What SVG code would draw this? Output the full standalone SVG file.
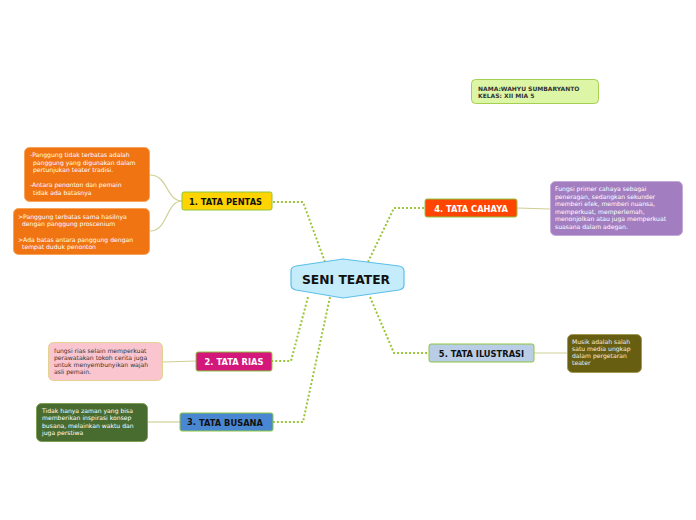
<svg xmlns="http://www.w3.org/2000/svg" width="696" height="520" viewBox="0 0 696 520">
<style>
text{font-family:"DejaVu Sans",Verdana,sans-serif}
.main{stroke:#8cc63f;stroke-width:1}
.t{font-weight:bold;font-size:8.3px}
.lf{font-size:6.1px}
.dot{fill:none;stroke:#9bc43a;stroke-width:2;stroke-dasharray:2 2}
.ln{fill:none;stroke:#cfcf95;stroke-width:1.2}
</style>
<rect width="696" height="520" fill="#fff"/>
<g id="connectors">
<path class="dot" d="M325,262 L303,202 L273,202"/>
<path class="dot" d="M368,262 L394,208 L425,208"/>
<path class="dot" d="M308,297 L291,361 L272,361"/>
<path class="dot" d="M330,297 L303,422 L273,422"/>
<path class="dot" d="M370,297 L394,353 L429,353"/>
<path class="ln" d="M182,201 C166,201 168,175 150,175"/>
<path class="ln" d="M182,201 C166,201 168,231 150,231"/>
<path class="ln" d="M517,208 L550,209"/>
<path class="ln" d="M196,361 L163,362"/>
<path class="ln" d="M180,422 L148,422"/>
<path class="ln" d="M534,353 L567,353"/>
</g>
<g id="center">
<path d="M291,271 Q291,267 296,266 L343,259 L399,266 Q404,267 404,271 L404,285 Q404,289 399,290 L343,298 L296,290 Q291,289 291,285 Z" fill="#c5ecfb" stroke="#5bbfea" stroke-width="1.2"/>
<text x="346" y="284" text-anchor="middle" font-size="12.3" font-weight="bold" fill="#111">SENI TEATER</text>
</g>
<g id="nama">
<rect x="471.5" y="79.5" width="127" height="24" rx="4" fill="#ddf6a6" stroke="#a5cf50"/>
<text x="478" y="91" font-size="6" font-weight="bold" fill="#333">NAMA:WAHYU SUMBARYANTO</text>
<text x="478" y="98" font-size="6" font-weight="bold" fill="#333">KELAS: XII MIA 5</text>
</g>
<g id="n1">
<rect x="182" y="192" width="90" height="18" rx="2" fill="#ffd400" class="main"/>
<text x="189" y="204.5" class="t" fill="#111">1. TATA PENTAS</text>
</g>
<g id="n1a">
<rect x="24.5" y="147.5" width="125" height="54" rx="5" fill="#f07512" stroke="#f6a45a"/>
<text class="lf" fill="#fff"><tspan x="30" y="157">-Panggung tidak terbatas adalah</tspan><tspan x="33" y="164.5">panggung yang digunakan dalam</tspan><tspan x="33" y="172">pertunjukan teater tradisi.</tspan><tspan x="30" y="187">-Antara penonton dan pemain</tspan><tspan x="33" y="194.5">tidak ada batasnya</tspan></text>
</g>
<g id="n1b">
<rect x="13.5" y="208.5" width="136" height="46" rx="5" fill="#f07512" stroke="#f6a45a"/>
<text class="lf" fill="#fff"><tspan x="18" y="219">&gt;Panggung terbatas sama hasilnya</tspan><tspan x="22" y="226">dengan panggung proscenium</tspan><tspan x="18" y="241.5">&gt;Ada batas antara panggung dengan</tspan><tspan x="22" y="248.5">tempat duduk penonton</tspan></text>
</g>
<g id="n4">
<rect x="425" y="199" width="92" height="18" rx="2" fill="#ff4500" class="main"/>
<text x="471" y="211.5" class="t" fill="#fff" text-anchor="middle">4. TATA CAHAYA</text>
</g>
<g id="n4a">
<rect x="550.5" y="181.5" width="132" height="54" rx="5" fill="#a27ec1" stroke="#c4aad6"/>
<text class="lf" fill="#fff"><tspan x="555" y="191">Fungsi primer cahaya sebagai</tspan><tspan x="555" y="198.5">peneragan, sedangkan sekunder</tspan><tspan x="555" y="206">memberi efek, memberi nuansa,</tspan><tspan x="555" y="213.5">memperkuat, memperlemah,</tspan><tspan x="555" y="221">menonjolkan atau juga memperkuat</tspan><tspan x="555" y="228.5">suasana dalam adegan.</tspan></text>
</g>
<g id="n2">
<rect x="196" y="352" width="76" height="19" rx="2" fill="#d3177b" class="main"/>
<text x="234" y="365" class="t" fill="#fff" text-anchor="middle">2. TATA RIAS</text>
</g>
<g id="n2a">
<rect x="48.5" y="342.5" width="114" height="38" rx="5" fill="#fac5cf" stroke="#e0d48e"/>
<text class="lf" fill="#333"><tspan x="54" y="352.5">fungsi rias selain memperkuat</tspan><tspan x="54" y="359.5">perawatakan tokoh cerita juga</tspan><tspan x="54" y="366.5">untuk menyembunyikan wajah</tspan><tspan x="54" y="373.5">asli pemain.</tspan></text>
</g>
<g id="n3">
<rect x="180" y="413" width="93" height="18" rx="2" fill="#4a87d3" class="main"/>
<text class="t" fill="#111"><tspan x="187" y="424.5">3.</tspan><tspan x="199" y="426">TATA BUSANA</tspan></text>
</g>
<g id="n3a">
<rect x="36.5" y="403.5" width="111" height="38" rx="5" fill="#486c30" stroke="#7f9f55"/>
<text class="lf" fill="#fff"><tspan x="42" y="412.5">Tidak hanya zaman yang bisa</tspan><tspan x="42" y="420">memberikan inspirasi konsep</tspan><tspan x="42" y="427.5">busana, melainkan waktu dan</tspan><tspan x="42" y="435">juga perstiwa</tspan></text>
</g>
<g id="n5">
<rect x="429" y="344" width="105" height="18" rx="2" fill="#b9cde6" class="main"/>
<text x="481.5" y="356.5" class="t" fill="#111" text-anchor="middle">5. TATA ILUSTRASI</text>
</g>
<g id="n5a">
<rect x="567.5" y="334.5" width="74" height="38" rx="5" fill="#685e12" stroke="#a29a55"/>
<text class="lf" fill="#eee"><tspan x="572" y="343.5">Musik adalah salah</tspan><tspan x="572" y="350.5">satu media ungkap</tspan><tspan x="572" y="357.5">dalam pergetaran</tspan><tspan x="572" y="364.5">teater</tspan></text>
</g>
</svg>
